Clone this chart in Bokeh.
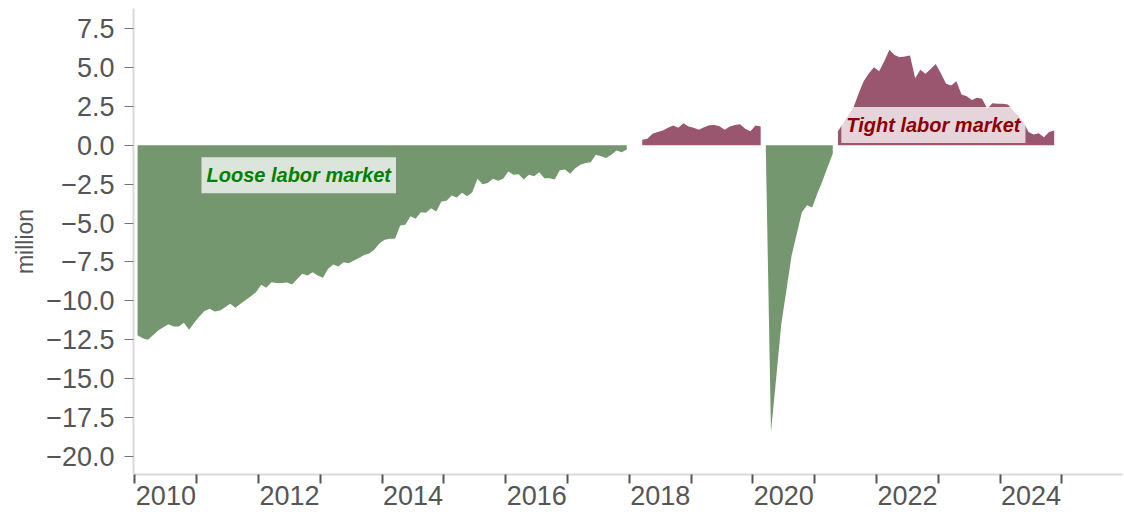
import numpy as np
from bokeh.plotting import figure
from bokeh.models import FixedTicker, Label, Range1d
from bokeh.embed import file_html
from bokeh.resources import INLINE

# ---- data: labor demand minus supply, millions, monthly from Jan 2010 ----
start_year = 2010
v2010 = [-12.2, -12.4, -12.5, -12.2, -11.9, -11.7, -11.5, -11.65, -11.65, -11.4, -11.85, -11.4]
v2011 = [-11.0, -10.65, -10.5, -10.68, -10.62, -10.4, -10.19, -10.44, -10.19, -9.95, -9.7, -9.44]
v2012 = [-8.97, -9.16, -8.8, -8.85, -8.85, -8.82, -8.95, -8.6, -8.26, -8.37, -8.16, -8.37]
v2013 = [-8.52, -7.94, -7.66, -7.79, -7.51, -7.58, -7.4, -7.25, -7.05, -6.95, -6.7, -6.3]
v2014 = [-6.08, -6.01, -6.01, -5.16, -5.11, -4.56, -4.73, -4.3, -4.34, -4.05, -4.26, -3.62]
v2015 = [-3.57, -3.23, -3.36, -3.06, -3.28, -3.02, -2.16, -2.5, -2.42, -2.16, -2.29, -2.16]
v2016 = [-1.69, -1.9, -1.86, -2.2, -1.9, -1.99, -1.73, -2.12, -2.12, -2.2, -1.61, -1.56]
v2017 = [-1.84, -1.48, -1.26, -1.15, -1.09, -0.62, -0.71, -0.83, -0.62, -0.34, -0.45, -0.28]
v2018 = [0.05, -0.08, 0.35, 0.41, 0.73, 0.84, 0.94, 1.12, 1.27, 1.12, 1.41, 1.2]
v2019 = [1.12, 0.99, 1.16, 1.28, 1.3, 1.22, 1.0, 1.2, 1.3, 1.35, 1.05, 0.9]
v2020 = [1.27, 1.2, -0.3, -18.4, -15.0, -11.5, -9.3, -7.1, -5.7, -4.3, -3.85, -4.0]
v2021 = [-3.1, -2.3, -1.4, -0.55, 0.9, 1.4, 1.9, 2.4, 3.3, 4.1, 4.6, 5.0]
v2022 = [4.75, 5.4, 6.13, 5.8, 5.65, 5.7, 5.76, 4.3, 4.84, 4.59, 4.9, 5.22]
v2023 = [4.6, 3.94, 3.83, 4.11, 3.26, 3.15, 2.91, 3.04, 2.98, 2.34, 2.7, 2.66]
v2024 = [2.66, 2.61, 2.23, 1.9, 1.5, 0.84, 0.69, 0.77, 0.51, 0.84, 0.94]

y_ticks = [-20.0, -17.5, -15.0, -12.5, -10.0, -7.5, -5.0, -2.5, 0.0, 2.5, 5.0, 7.5]
year_ticks = list(range(2010, 2026))
year_labels = ["2010", "2012", "2014", "2016", "2018", "2020", "2022", "2024"]

loose_text = "Loose labor market"
tight_text = "Tight labor market"

values = np.array(v2010 + v2011 + v2012 + v2013 + v2014 + v2015 + v2016 + v2017
                  + v2018 + v2019 + v2020 + v2021 + v2022 + v2023 + v2024)
xs = start_year + (np.arange(len(values)) + 0.5) / 12.0

GREEN = "#75976F"
MAROON = "#9A566F"
TEXT = "#555555"

p = figure(width=1124, height=519, output_backend="svg", toolbar_location=None,
           x_range=Range1d(2009.976, 2025.98), y_range=Range1d(-21.15, 8.78),
           min_border_left=133, min_border_right=2, min_border_top=8, min_border_bottom=45)
p.outline_line_color = None
p.xgrid.grid_line_color = None
p.ygrid.grid_line_color = None
p.background_fill_color = "white"

# fill runs of same sign (like fill_between with where=)
pos = values > 0
s = 0
for k in range(1, len(values) + 1):
    if k == len(values) or pos[k] != pos[s]:
        seg = slice(s, k)
        p.varea(x=xs[seg], y1=np.zeros(k - s), y2=values[seg],
                fill_color=MAROON if pos[s] else GREEN, fill_alpha=1.0)
        s = k

# annotations
lab1 = Label(x=2012.65, y=-1.93, text=loose_text, text_align="center", text_baseline="middle",
             text_font="Liberation Sans", text_font_style="bold italic",
             text_font_size="20px", text_color="#008000",
             background_fill_color="white", background_fill_alpha=0.75,
             padding=dict(x=5, y=7))
lab2 = Label(x=2022.92, y=1.3, text=tight_text, text_align="center", text_baseline="middle",
             text_font="Liberation Sans", text_font_style="bold italic",
             text_font_size="20px", text_color="#8B0000",
             background_fill_color="white", background_fill_alpha=0.75,
             padding=dict(x=5, y=7))
p.add_layout(lab1)
p.add_layout(lab2)

# x axis: yearly ticks, labels centred in each labelled year
xa = p.xaxis[0]
xa.ticker = FixedTicker(ticks=[int(l) + 0.5 for l in year_labels], minor_ticks=year_ticks)
xa.major_label_overrides = {int(l) + 0.5: l for l in year_labels}
xa.major_tick_line_color = None
xa.major_tick_out = 9
xa.major_tick_in = 0
xa.minor_tick_line_color = "#555555"
xa.minor_tick_line_width = 2
xa.minor_tick_out = 9
xa.minor_tick_in = 0
xa.axis_line_color = "#d9d9d9"
xa.axis_line_width = 2
xa.major_label_text_font = "Liberation Sans"
xa.major_label_text_font_size = "27px"
xa.major_label_text_color = TEXT
xa.major_label_standoff = 2

ya = p.yaxis[0]
ya.ticker = FixedTicker(ticks=y_ticks, minor_ticks=[])
ya.major_label_overrides = {t: ("%.1f" % t).replace("-", "\u2212") for t in y_ticks}
ya.major_tick_line_color = "#777777"
ya.major_tick_out = 9
ya.major_tick_in = 0
ya.minor_tick_line_color = None
ya.axis_line_color = "#d9d9d9"
ya.axis_line_width = 2
ya.major_label_text_font = "Liberation Sans"
ya.major_label_text_font_size = "27px"
ya.major_label_text_color = TEXT
ya.major_label_standoff = 10
ya.axis_label = "million"
ya.axis_label_text_font = "Liberation Sans"
ya.axis_label_text_font_style = "normal"
ya.axis_label_text_font_size = "23px"
ya.axis_label_text_color = TEXT
ya.axis_label_standoff = 5

open("out.html", "w").write(file_html(p, INLINE))
